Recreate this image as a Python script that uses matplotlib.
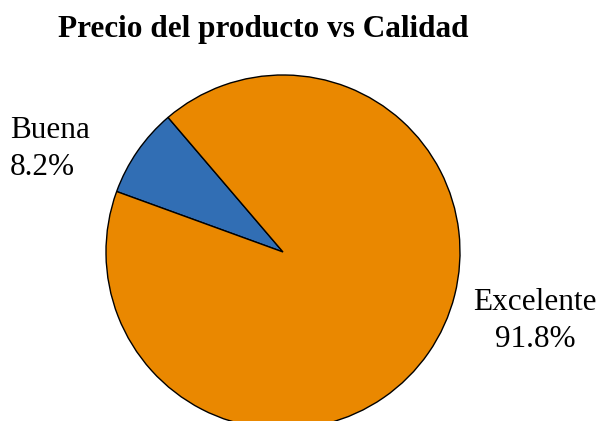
import matplotlib.pyplot as plt

labels = ['Buena', 'Excelente']
values = [8.2, 91.8]
colors = ['#316EB4', '#EA8800']

W, H = 600, 421
fig = plt.figure(figsize=(W / 100, H / 100), dpi=100)

# pie centre and radius in pixels
cx, cy, r = 283, 252, 177
ax = fig.add_axes([(cx - r) / W, (H - cy - r) / H, 2 * r / W, 2 * r / H])
ax.pie(values, colors=colors, startangle=130.5, counterclock=True,
       wedgeprops=dict(edgecolor='black', linewidth=1.0))
ax.set_xlim(-1, 1)
ax.set_ylim(-1, 1)
ax.set_aspect('auto')
ax.axis('off')

fig.text(263 / W, 1 - 29 / H, 'Precio del producto vs Calidad', ha='center', va='center',
         fontsize=22.5, fontweight='bold', family='Liberation Serif')

fig.text(10 / W, 1 - 149 / H, f'{labels[0]}\n{values[0]}%', ha='left', va='center',
         fontsize=22.5, family='Liberation Serif', linespacing=1.35, multialignment='left')
fig.text(535 / W, 1 - 321 / H, f'{labels[1]}\n{values[1]}%', ha='center', va='center',
         fontsize=22.5, family='Liberation Serif', linespacing=1.35, multialignment='center')

fig.savefig('out.png', dpi=100)
